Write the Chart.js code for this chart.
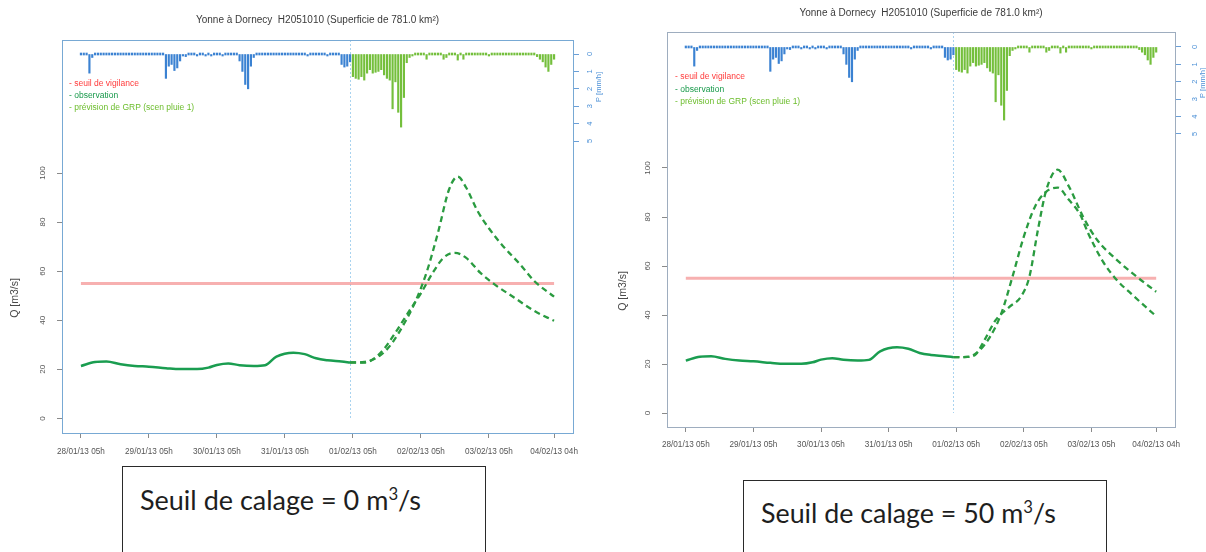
<!DOCTYPE html>
<html><head><meta charset="utf-8">
<script src="https://cdn.jsdelivr.net/npm/chart.js@4.4.0/dist/chart.umd.min.js"></script>
<style>
html,body{margin:0;padding:0;background:#fff;}
body{width:1206px;height:552px;position:relative;overflow:hidden;}
.wrap{position:absolute;}
.cap{position:absolute;box-sizing:border-box;border:1.5px solid #2a2a2a;background:#fff;}
.cap span{position:absolute;left:17px;font-family:Lato,"Liberation Sans",sans-serif;font-size:27px;line-height:27px;color:#1e1e1e;white-space:nowrap;}
.cap sup{font-size:62%;line-height:0;vertical-align:0;position:relative;top:-0.6em;}
</style></head><body>
<div class="wrap" style="left:0;top:0;width:610px;height:470px"><canvas id="c1"></canvas></div>
<div class="wrap" style="left:605px;top:0;width:601px;height:470px"><canvas id="c2"></canvas></div>
<div class="cap" style="left:122px;top:466px;width:364px;height:100px"><span data-w="281">Seuil de calage = 0 m<sup>3</sup>/s</span></div>
<div class="cap" style="left:743px;top:480px;width:364px;height:100px"><span data-w="295">Seuil de calage = 50 m<sup>3</sup>/s</span></div>
<script>
// ---------- data ----------
const tickHours = [0, 24, 48, 72, 96, 120, 144, 167];
const tickLabels = ["28/01/13 05h", "29/01/13 05h", "30/01/13 05h", "31/01/13 05h",
                    "01/02/13 05h", "02/02/13 05h", "03/02/13 05h", "04/02/13 04h"];
const flowTicks = [0, 20, 40, 60, 80, 100];
const rainTicks = [0, 1, 2, 3, 4, 5];
const vigilanceThreshold = 55;
const forecastOriginHour = 95;

const obsHours = [0, 5, 9, 14, 19, 24, 30, 35, 41, 45, 48, 52, 56, 61, 65, 69, 75, 79, 83, 87, 92, 95];
const obsFlow  = [21.4, 23.0, 23.2, 22.1, 21.4, 21.1, 20.5, 20.1, 20.1, 20.7, 21.8, 22.4, 21.7, 21.4, 21.7, 25.2, 26.8, 26.2, 24.5, 23.7, 23.2, 22.8];

// hourly rain, observed (h0..h95) and forecast scenario (h96..h167), mm/h
const rainObsHourly = [
  0,0,0,1.1,0.2,0,0,0,0,0,0,0,0,0,0,0,0,0,0,0,0,0,0,0,
  0,0,0,0,0,0,1.4,0.7,0.6,0.95,0.8,0.4,0.1,0.15,0,0,0,0.05,0,0,0.1,0,0.08,0,
  0,0,0.05,0,0,0,0,0,0.4,1.0,1.75,2.0,0.7,0.2,0,0,0,0,0,0,0,0,0,0,
  0,0,0,0,0,0,0,0,0.1,0,0,0,0,0,0,0.1,0,0,0,0,0.6,0.75,0.7,0.45
];
const rainFcstHourly = [
  1.3,1.4,1.45,1.3,1.5,1.1,0.9,1.1,1.05,1.0,0.9,1.2,1.4,1.5,3.15,1.6,3.35,4.2,2.5,0.5,0.2,0.1,0,0,
  0,0,0.3,0,0,0,0,0,0.3,0.2,0,0,0,0.35,0,0.3,0,0,0,0,0,0,0,0,
  0.05,0,0,0,0,0,0,0,0,0,0,0,0,0,0,0,0,0.15,0.3,0.45,0.75,1.0,0.6,0.3
];

// GRP forecasts, calage threshold 0 m3/s
const fcst0AHours = [95,100,106,110,114,118,122,126,130,133,136,140,144,149,155,160,167];
const fcst0AFlow  = [22.8,23.0,26.0,31.0,38.5,47.5,59.5,75.6,93.5,98.5,94.0,84.5,77.5,70.2,62.8,56.0,49.6];
const fcst0BHours = [95,100,106,111,116,120,124,128,132,136,141,146,153,160,167];
const fcst0BFlow  = [22.8,22.8,27.0,35.0,44.0,51.0,59.0,65.5,67.5,65.4,59.3,54.6,49.2,43.8,39.8];
// GRP forecasts, calage threshold 50 m3/s
const fcst50AHours = [95,100,103,106,110,115,119,122,125,128,132,136,141,146,153,160,167];
const fcst50AFlow  = [22.8,22.9,24.0,29.7,37.9,43.4,47.5,55.7,74.7,91.1,99.3,92.5,80.2,70.7,62.5,55.7,49.5];
const fcst50BHours = [95,100,103,108,112,116,120,124,128,132,136,140,143,148,153,158,167];
const fcst50BFlow  = [22.8,22.9,24.3,31.1,40.6,55.7,72.0,84.3,90.4,92.0,87.0,81.0,73.0,62.0,54.3,48.8,39.5];

const titleText = "Yonne à Dornecy  H2051010 (Superficie de 781.0 km²)";
const legendTexts = ["- seuil de vigilance", "- observation", "- prévision de GRP (scen pluie 1)"];
const flowAxisTitle = "Q [m3/s]";
const rainAxisTitle = "P [mm/h]";

// ---------- drawing ----------
const FONT = '"Liberation Sans", Arial, sans-serif';
Chart.defaults.font.family = FONT;
const lastHour = rainObsHourly.length + rainFcstHourly.length - 1;
const pts = (xs, ys) => xs.map((x, i) => ({x: x, y: ys[i]}));

function vText(ctx, t, x, y) {
  ctx.save(); ctx.translate(x, y); ctx.rotate(-Math.PI / 2); ctx.fillText(t, 0, 0); ctx.restore();
}

const decor = {
  id: 'decor',
  beforeDatasetsDraw(chart, args, o) {
    const ctx = chart.ctx, a = chart.chartArea;
    const px = Math.round(chart.scales.x.getPixelForValue(forecastOriginHour)) + 0.5;
    ctx.save();
    ctx.strokeStyle = '#a9d3ef'; ctx.lineWidth = 1; ctx.setLineDash([2, 2]);
    ctx.beginPath(); ctx.moveTo(px, a.top); ctx.lineTo(px, chart.scales.y.getPixelForValue(0)); ctx.stroke();
    ctx.restore();
  },
  afterDraw(chart, args, o) {
    const ctx = chart.ctx, a = chart.chartArea;
    ctx.save();
    ctx.strokeStyle = o.frameColor; ctx.lineWidth = 1;
    ctx.strokeRect(Math.round(a.left) + 0.5, Math.round(a.top) + 0.5, Math.round(a.right - a.left), Math.round(a.bottom - a.top));
    ctx.textBaseline = 'middle';
    ctx.textAlign = 'center';
    ctx.fillStyle = '#3a3a3a'; ctx.font = '10px ' + FONT;
    ctx.fillText(titleText, (a.left + a.right) / 2, o.titleY);
    ctx.textAlign = 'left'; ctx.font = '8.5px ' + FONT;
    const legendColors = ['#ff3b3b', '#17994a', '#6cbd2c'];
    legendTexts.forEach((t, i) => { ctx.fillStyle = legendColors[i]; ctx.fillText(t, o.legendX, o.legendY + i * o.legendStep); });
    ctx.textAlign = 'center';
    const ys = chart.scales.y, yp = chart.scales.yp;
    ctx.fillStyle = '#555'; ctx.font = '8px ' + FONT;
    flowTicks.forEach(v => vText(ctx, String(v), o.qLabelX, ys.getPixelForValue(v)));
    ctx.font = '10.5px ' + FONT; ctx.fillStyle = '#4a4a4a';
    vText(ctx, flowAxisTitle, o.qTitleX, o.qTitleY);
    ctx.fillStyle = '#4a8fd6'; ctx.font = '7.5px ' + FONT;
    rainTicks.forEach(v => vText(ctx, String(v), o.pLabelX, yp.getPixelForValue(v)));
    vText(ctx, rainAxisTitle, o.pTitleX, o.pTitleY);
    ctx.restore();
  }
};

function makeChart(id, g, fA, fB) {
  const H = 470;
  return new Chart(document.getElementById(id), {
    type: 'line',
    data: { datasets: [
      { data: pts(obsHours, obsFlow), yAxisID: 'y', borderColor: '#1a9d50', borderWidth: 2.5,
        pointRadius: 0, cubicInterpolationMode: 'monotone' },
      { data: fA, yAxisID: 'y', borderColor: '#2a9b40', borderWidth: 2.3, borderDash: [6, 4],
        pointRadius: 0, cubicInterpolationMode: 'monotone' },
      { data: fB, yAxisID: 'y', borderColor: '#2a9b40', borderWidth: 2.3, borderDash: [6, 4],
        pointRadius: 0, cubicInterpolationMode: 'monotone' },
      { data: pts([0, lastHour], [vigilanceThreshold, vigilanceThreshold]), yAxisID: 'y',
        borderColor: 'rgba(244,150,150,0.75)', borderWidth: 3, pointRadius: 0 },
      { type: 'bar', data: rainObsHourly.map((v, i) => ({x: i, y: v})), yAxisID: 'yp',
        backgroundColor: '#3b82d2', barThickness: 1.5, minBarLength: 2, grouped: false },
      { type: 'bar', data: rainFcstHourly.map((v, i) => ({x: rainObsHourly.length + i, y: v})), yAxisID: 'yp',
        backgroundColor: '#74bf3c', barThickness: 1.5, minBarLength: 2, grouped: false }
    ]},
    options: {
      responsive: true, maintainAspectRatio: false, animation: false, events: [],
      layout: { padding: { top: g.top, left: 0, right: 0, bottom: 0 } },
      plugins: { legend: { display: false }, tooltip: { enabled: false }, title: { display: false },
        decor: g.decor },
      scales: {
        x: { type: 'linear', position: 'bottom', offset: false, min: -0.04 * lastHour, max: 1.04 * lastHour,
          afterBuildTicks: s => { s.ticks = tickHours.map(v => ({value: v})); },
          afterFit: s => { s.height = H - g.bottom; },
          ticks: { autoSkip: false, maxRotation: 0, minRotation: 0, padding: g.xPad, color: '#555',
            font: { size: 8.2 }, callback: (v, i) => tickLabels[i] },
          grid: { display: true, offset: false, drawOnChartArea: false, drawTicks: true, tickLength: 5, color: '#8a8a8a' },
          border: { display: false } },
        y: { type: 'linear', position: 'left', min: g.qMin, max: g.qMax,
          afterBuildTicks: s => { s.ticks = flowTicks.map(v => ({value: v})); },
          afterFit: s => { s.width = g.left; },
          ticks: { display: false },
          grid: { display: true, offset: false, drawOnChartArea: false, drawTicks: true, tickLength: 5, color: '#8a8a8a' },
          border: { display: false } },
        yp: { type: 'linear', position: 'right', reverse: true, min: g.pMin, max: g.pMax, beginAtZero: false,
          afterBuildTicks: s => { s.ticks = rainTicks.map(v => ({value: v})); },
          afterFit: s => { s.width = g.canvasW - g.right; },
          ticks: { display: false },
          grid: { display: true, offset: false, drawOnChartArea: false, drawTicks: true, tickLength: 6, color: '#6a9fd8' },
          border: { display: false } }
      }
    },
    plugins: [decor]
  });
}

makeChart('c1', {
  canvasW: 610, top: 40, bottom: 433, left: 62, right: 573, xPad: 9,
  qMin: -5.93, qMax: 154.2, pMin: -0.805, pMax: 21.78,
  decor: { frameColor: '#78a9d4', titleY: 20, legendX: 69, legendY: 84, legendStep: 12,
    qLabelX: 43, qTitleX: 15, qTitleY: 298, pLabelX: 590, pTitleX: 599, pTitleY: 87 }
}, pts(fcst0AHours, fcst0AFlow), pts(fcst0BHours, fcst0BFlow));

makeChart('c2', {
  canvasW: 601, top: 32, bottom: 427, left: 62, right: 570, xPad: 8,
  qMin: -5.7, qMax: 155.5, pMin: -0.86, pMax: 21.84,
  decor: { frameColor: '#9eadbf', titleY: 13, legendX: 70, legendY: 77, legendStep: 12.5,
    qLabelX: 43, qTitleX: 18, qTitleY: 291, pLabelX: 590, pTitleX: 598, pTitleY: 83 }
}, pts(fcst50AHours, fcst50AFlow), pts(fcst50BHours, fcst50BFlow));

// fit caption text to the reference width and put its baseline 44px below the box top
document.querySelectorAll('.cap span').forEach(sp => {
  const target = +sp.dataset.w;
  const f = 27 * target / sp.getBoundingClientRect().width;
  sp.style.fontSize = f + 'px'; sp.style.lineHeight = f + 'px';
  sp.style.top = (44 - 1.5 - 0.887 * f) + 'px';
});
</script>
</body></html>
